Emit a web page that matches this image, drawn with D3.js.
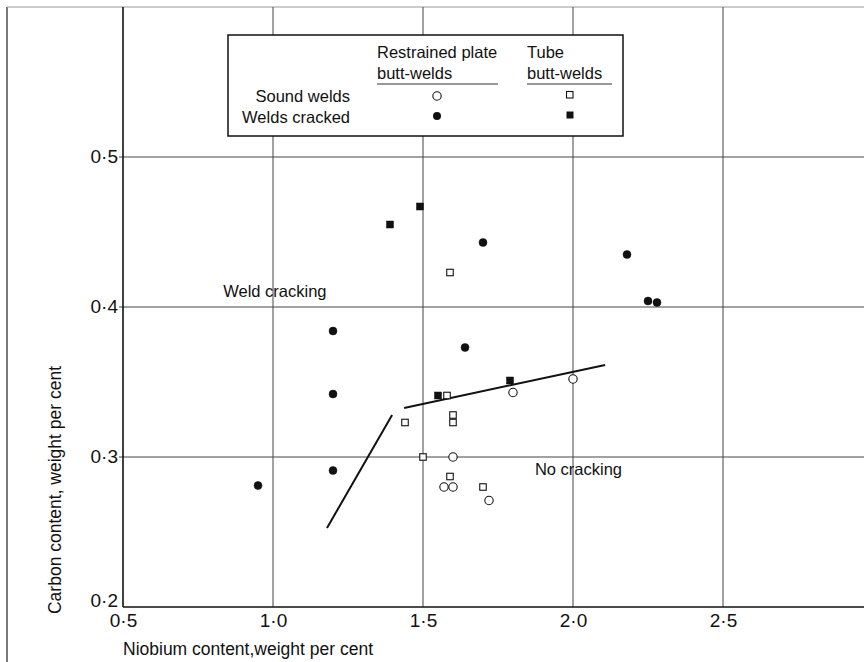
<!DOCTYPE html>
<html>
<head>
<meta charset="utf-8">
<script src="https://d3js.org/d3.v7.min.js"></script>
<style>
  body {margin:0; background:#fff;}
  svg text {font-family:"Liberation Sans", Arial, sans-serif; fill:#111;}
</style>
</head>
<body>
<svg id="chart" width="864" height="662"></svg>
<script>
// values
var xTicks=[0.5,1.0,1.5,2.0,2.5],
    yTicks=[0.2,0.3,0.4,0.5];
// restrained plate butt-welds
var plateSoundX=[1.80,2.00,1.60,1.57,1.60,1.72],
    plateSoundY=[0.343,0.352,0.300,0.280,0.280,0.271];
var plateCrackX=[0.95,1.20,1.20,1.20,1.70,1.64,2.18,2.25,2.28],
    plateCrackY=[0.281,0.384,0.342,0.291,0.443,0.373,0.435,0.404,0.403];
// tube butt-welds
var tubeSoundX=[1.59,1.58,1.44,1.60,1.60,1.50,1.59,1.70],
    tubeSoundY=[0.423,0.341,0.323,0.328,0.323,0.300,0.287,0.280];
var tubeCrackX=[1.39,1.49,1.55,1.79],
    tubeCrackY=[0.455,0.467,0.341,0.351];
// boundary lines between cracking / no cracking
var bound1X=[1.18,1.397], bound1Y=[0.2527,0.328];
var bound2X=[1.437,2.107], bound2Y=[0.3327,0.3613];

var svg=d3.select('#chart');
var x=d3.scaleLinear().domain([0.5,2.97]).range([123,864]),
    y=d3.scaleLinear().domain([0.2,0.6]).range([607,7]);
var fmt=function(d){return d3.format('.1f')(d).replace('.','\u00b7');};
function pts(xs,ys){return xs.map(function(v,i){return {x:v,y:ys[i]};});}

// outer frame (left & top edges of the printed figure)
svg.append('line').attr('x1',7).attr('x2',7).attr('y1',7).attr('y2',662)
   .attr('stroke','#222').attr('stroke-width',1.2);
svg.append('line').attr('x1',7).attr('x2',864).attr('y1',7).attr('y2',7)
   .attr('stroke','#999').attr('stroke-width',1.2);

// grid
var grid=svg.append('g');
grid.selectAll('.vg').data(xTicks.slice(1)).enter().append('line')
    .attr('x1',function(d){return x(d);}).attr('x2',function(d){return x(d);})
    .attr('y1',y(0.6)).attr('y2',y(0.2))
    .attr('stroke','#444').attr('stroke-width',1);
grid.selectAll('.hg').data(yTicks.slice(1)).enter().append('line')
    .attr('x1',x(0.5)-4).attr('x2',864)
    .attr('y1',function(d){return y(d);}).attr('y2',function(d){return y(d);})
    .attr('stroke','#444').attr('stroke-width',1);

// axes
var xAxis=svg.append('g').attr('transform','translate(0,'+y(0.2)+')')
    .call(d3.axisBottom(x).tickValues(xTicks).tickSize(0).tickPadding(7).tickFormat(fmt));
var yAxis=svg.append('g').attr('transform','translate('+x(0.5)+',0)')
    .call(d3.axisLeft(y).tickValues(yTicks).tickSize(0).tickPadding(5).tickFormat(fmt));
[xAxis,yAxis].forEach(function(a){
  a.attr('font-size',null).attr('font-family',null);
  a.select('.domain').attr('stroke','#111').attr('stroke-width',1.6);
  a.selectAll('text').style('font-size','19px').attr('fill','#111');
});
yAxis.selectAll('text').attr('dy',function(d){return d===0.2?'-0.05em':'0.28em';});
xAxis.select('.domain').attr('d','M'+x(0.5)+',0H864');
yAxis.select('.domain').attr('d','M0,'+y(0.2)+'V'+y(0.6));

// axis titles
svg.append('text').attr('x',248).attr('y',655).attr('text-anchor','middle')
   .style('font-size','17.5px').text('Niobium content,weight per cent');
svg.append('text').attr('transform','translate(61,490) rotate(-90)').attr('text-anchor','middle')
   .style('font-size','17.5px').text('Carbon content, weight per cent');

// region labels
svg.append('text').attr('x',x(0.834)).attr('y',y(0.4067)).style('font-size','16.5px').text('Weld cracking');
svg.append('text').attr('x',x(1.873)).attr('y',y(0.288)).style('font-size','16.5px').text('No cracking');

// boundary lines
var line=d3.line().x(function(d){return x(d.x);}).y(function(d){return y(d.y);});
[pts(bound1X,bound1Y),pts(bound2X,bound2Y)].forEach(function(b){
  svg.append('path').datum(b).attr('d',line)
     .attr('fill','none').attr('stroke','#111').attr('stroke-width',2);
});

// markers
function circles(data,filled){
  svg.append('g').selectAll('circle').data(data).enter().append('circle')
     .attr('cx',function(d){return x(d.x);}).attr('cy',function(d){return y(d.y);})
     .attr('r',filled?4:4.2)
     .attr('fill',filled?'#111':'#fff').attr('stroke','#111').attr('stroke-width',filled?0.5:1.1);
}
function squares(data,filled){
  var s=filled?7:6.5;
  svg.append('g').selectAll('rect').data(data).enter().append('rect')
     .attr('x',function(d){return x(d.x)-s/2;}).attr('y',function(d){return y(d.y)-s/2;})
     .attr('width',s).attr('height',s)
     .attr('fill',filled?'#111':'#fff').attr('stroke','#111').attr('stroke-width',filled?0.5:1.1);
}
circles(pts(plateSoundX,plateSoundY),false);
circles(pts(plateCrackX,plateCrackY),true);
squares(pts(tubeSoundX,tubeSoundY),false);
squares(pts(tubeCrackX,tubeCrackY),true);

// legend
var lg=svg.append('g');
lg.append('rect').attr('x',228).attr('y',35).attr('width',395).attr('height',101)
  .attr('fill','#fff').attr('stroke','#111').attr('stroke-width',1.5);
var lfs='16.5px';
lg.append('text').attr('x',377).attr('y',58).style('font-size',lfs).text('Restrained plate');
lg.append('text').attr('x',377).attr('y',79).style('font-size',lfs).text('butt-welds');
lg.append('line').attr('x1',377).attr('x2',498).attr('y1',84).attr('y2',84).attr('stroke','#333').attr('stroke-width',1);
lg.append('text').attr('x',527).attr('y',58).style('font-size',lfs).text('Tube');
lg.append('text').attr('x',527).attr('y',79).style('font-size',lfs).text('butt-welds');
lg.append('line').attr('x1',527).attr('x2',612).attr('y1',84).attr('y2',84).attr('stroke','#333').attr('stroke-width',1);
lg.append('text').attr('x',350).attr('y',102).attr('text-anchor','end').style('font-size',lfs).text('Sound welds');
lg.append('text').attr('x',350).attr('y',123).attr('text-anchor','end').style('font-size',lfs).text('Welds cracked');
lg.append('circle').attr('cx',437).attr('cy',96).attr('r',4.2).attr('fill','#fff').attr('stroke','#111').attr('stroke-width',1.1);
lg.append('circle').attr('cx',437).attr('cy',116).attr('r',4).attr('fill','#111');
lg.append('rect').attr('x',566.5).attr('y',91.5).attr('width',6.5).attr('height',6.5).attr('fill','#fff').attr('stroke','#111').attr('stroke-width',1.1);
lg.append('rect').attr('x',566.5).attr('y',111.5).attr('width',7).attr('height',7).attr('fill','#111');
</script>
</body>
</html>
